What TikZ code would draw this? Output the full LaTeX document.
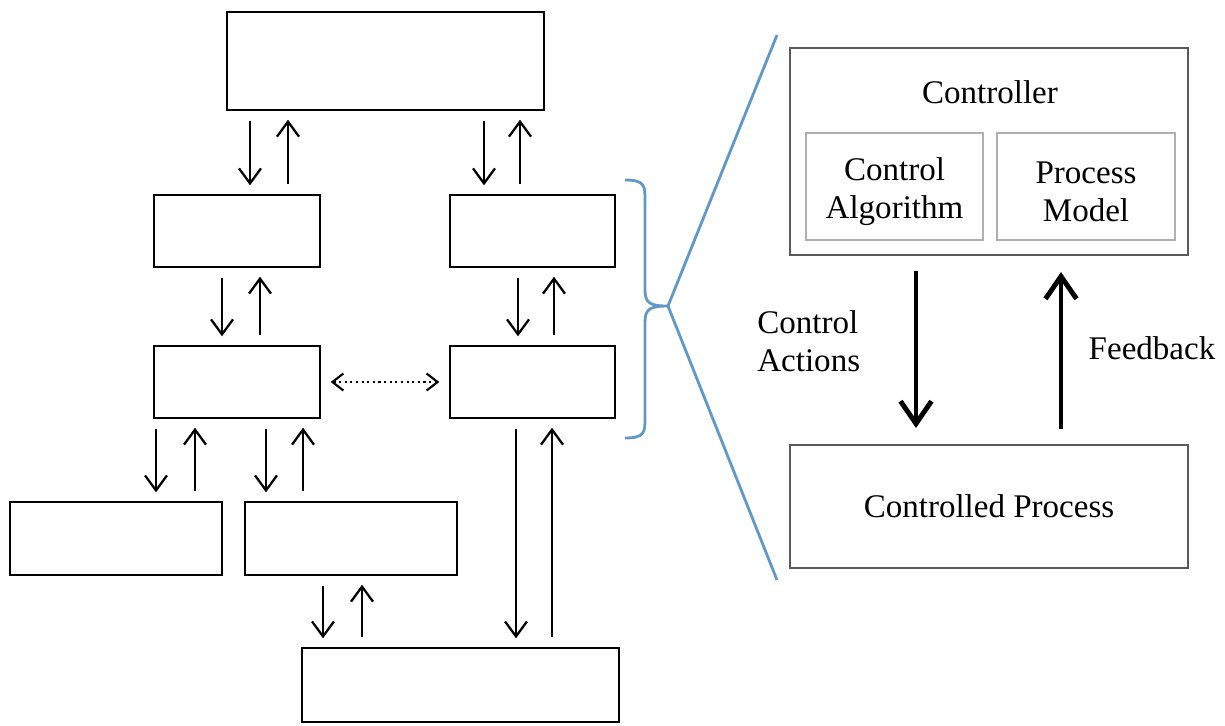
\documentclass[tikz,border=0pt]{standalone}
\usepackage{fontspec}
\setmainfont{Liberation Serif}
\usetikzlibrary{arrows.meta}

\definecolor{bracecol}{RGB}{96,152,200}
\definecolor{boxgray}{RGB}{90,90,90}
\definecolor{innergray}{RGB}{175,175,175}

\tikzset{
  box/.style={draw=black, line width=0.8pt, inner sep=0pt},
  bigbox/.style={draw=boxgray, line width=1.6pt, inner sep=0pt},
  smallbox/.style={draw=innergray, line width=0.9pt, inner sep=0pt},
  txt/.style={font=\fontsize{18.8}{21.5}\selectfont, inner sep=0pt, align=center},
  arr/.style={line width=1.3pt, -{Straight Barb[length=0.3cm,width=0.44cm]},
    shorten <=0.2cm, shorten >=0.18cm},
  bigarr/.style={line width=2.8pt, -{Straight Barb[length=0.45cm,width=0.62cm]}},
  brace/.style={draw=bracecol, line width=1.6pt}
}

\begin{document}
\begin{tikzpicture}[x=0.02cm,y=-0.02cm]
\useasboundingbox (0,0) rectangle (1225,725);

% left hierarchy
\node[box, minimum width=6.34cm, minimum height=1.96cm] (top) at (385.5,61) {};
\node[box, minimum width=3.32cm, minimum height=1.44cm] (l1l) at (237,231) {};
\node[box, minimum width=3.30cm, minimum height=1.44cm] (l1r) at (532.5,231) {};
\node[box, minimum width=3.32cm, minimum height=1.44cm] (l2l) at (237,382) {};
\node[box, minimum width=3.30cm, minimum height=1.44cm] (l2r) at (532.5,382) {};
\node[box, minimum width=4.24cm, minimum height=1.46cm] (l3a) at (116,538.5) {};
\node[box, minimum width=4.24cm, minimum height=1.46cm] (l3b) at (351,538.5) {};
\node[box, minimum width=6.34cm, minimum height=1.48cm] (bot) at (460.5,685) {};

\foreach \dx/\ux/\a/\b in {250/288/top/l1l, 484/520/top/l1r, 222/260/l1l/l2l,
    518/554/l1r/l2r, 156/195/l2l/l3a, 266/303/l2l/l3b, 323/362/l3b/bot, 516/552/l2r/bot}
{
  \draw[arr] (\dx,0 |- \a.south) -- (\dx,0 |- \b.north);
  \draw[arr] (\ux,0 |- \b.north) -- (\ux,0 |- \a.south);
}

\draw[line width=1.2pt, dotted, {Straight Barb[length=0.22cm,width=0.34cm]}-{Straight Barb[length=0.22cm,width=0.34cm]},
  shorten <=0.2cm, shorten >=0.2cm] (l2l.east) -- (l2r.west);

% brace and zoom lines
\coordinate (tip) at (668,306);
\coordinate (zt) at (777,35);
\coordinate (zb) at (777,580);
\draw[brace] (625,180) .. controls (645,180) and (645,186) .. (645,200) -- (645,290)
  .. controls (645,303) and (650,306) .. (tip)
  .. controls (650,306) and (645,309) .. (645,322) -- (645,418)
  .. controls (645,432) and (645,438) .. (625,438);
\draw[brace] (tip) -- (zt);
\draw[brace] (tip) -- (zb);

% control loop
\node[bigbox, minimum width=7.96cm, minimum height=4.14cm] (ctrl) at (989,151.5) {};
\node[txt] (ctrltxt) at (990,92) {Controller};
\node[smallbox, minimum width=3.54cm, minimum height=2.14cm] (alg) at (894.5,186.5) {};
\node[smallbox, minimum width=3.56cm, minimum height=2.14cm] (pm) at (1086,186.5) {};
\node[txt] (algtxt) at ([yshift=-0.1cm]alg.center) {Control\\Algorithm};
\node[txt] (pmtxt) at ([yshift=-0.1cm]pm.center) {Process\\Model};
\node[bigbox, minimum width=7.96cm, minimum height=2.46cm, txt] (proc) at (989,506.5) {Controlled Process};

\draw[bigarr] (916,0 |- ctrl.south) ++(0,15) -- (916,428);
\draw[bigarr] (1061,0 |- proc.north) ++(0,-15) -- (1061,272);

\node[txt, anchor=west, align=left] (actions) at (757,341) {Control\\Actions};
\node[txt] (feedback) at (1152,348) {Feedback};
\end{tikzpicture}
\end{document}
